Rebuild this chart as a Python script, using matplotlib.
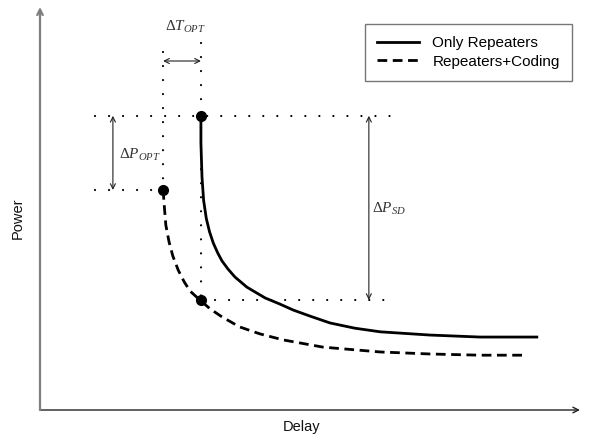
import matplotlib
matplotlib.use("Agg")
import matplotlib.pyplot as plt

plt.rcParams["font.family"] = ["Liberation Sans", "DejaVu Sans"]
plt.rcParams["mathtext.fontset"] = "custom"
plt.rcParams["mathtext.rm"] = "Liberation Serif"
plt.rcParams["mathtext.it"] = "Liberation Serif:italic"

INK = "#000000"
AXIS_GRAY = "#7f7f7f"
LABEL_GRAY = "#333333"

# curves (delay, power), arbitrary units 0..10
solid_delay = [2.98, 2.98, 3.00, 3.03, 3.08, 3.14, 3.21, 3.29, 3.37, 3.48, 3.61, 3.83, 3.98,
               4.17, 4.44, 4.69, 5.00, 5.37, 5.83, 6.30, 7.22, 8.15, 9.20]
solid_power = [7.30, 6.63, 5.78, 5.20, 4.75, 4.42, 4.14, 3.90, 3.70, 3.50, 3.30, 3.05, 2.93,
               2.78, 2.63, 2.48, 2.33, 2.16, 2.03, 1.94, 1.86, 1.81, 1.81]

dashed_delay = [2.28, 2.30, 2.33, 2.39, 2.46, 2.56, 2.67, 2.78, 2.96, 3.15, 3.37, 3.70,
                4.07, 4.50, 5.24, 6.30, 7.22, 8.15, 8.94]
dashed_power = [5.46, 5.09, 4.59, 4.17, 3.82, 3.47, 3.18, 2.95, 2.73, 2.51, 2.31, 2.06,
                1.89, 1.74, 1.56, 1.44, 1.39, 1.36, 1.36]

# key points: start of each curve and the point on the dashed curve
dot_delay = [2.98, 2.28, 2.98]
dot_power = [7.30, 5.46, 2.73]

fig = plt.figure(figsize=(5.93, 4.38), dpi=100)
ax = fig.add_axes([40 / 593, 28 / 438, 540 / 593, 403 / 438])
ax.set_xlim(0, 10)
ax.set_ylim(0, 10)
ax.axis("off")

# Axes with arrow heads
ax.annotate("", xy=(10.0, 0), xytext=(0, 0),
            arrowprops=dict(arrowstyle="->", color="#222222", lw=1.0,
                            shrinkA=0, shrinkB=0), annotation_clip=False)
ax.annotate("", xy=(0, 10.0), xytext=(0, 0),
            arrowprops=dict(arrowstyle="->", color=AXIS_GRAY, lw=1.6,
                            shrinkA=0, shrinkB=0), annotation_clip=False)
ax.text(4.85, -0.42, "Delay", ha="center", va="center", fontsize=10.5, color="#111111")
ax.text(-0.42, 4.75, "Power", ha="center", va="center", rotation=90, fontsize=10.5, color="#111111")

# Dotted guide lines
dot_style = dict(color=INK, lw=1.6, linestyle=(0, (0.01, 6.3)), dash_capstyle="round")
ax.plot([1.02, 6.67], [7.30, 7.30], **dot_style)
ax.plot([1.02, 2.28], [5.46, 5.46], **dot_style)
ax.plot([2.98, 6.57], [2.73, 2.73], **dot_style)
ax.plot([2.28, 2.28], [8.88, 5.46], **dot_style)
ax.plot([2.98, 2.98], [9.11, 2.73], **dot_style)

# Curves
ax.plot(solid_delay, solid_power, color=INK, lw=2.0, label="Only Repeaters",
        solid_joinstyle="round")
ax.plot(dashed_delay, dashed_power, color=INK, lw=2.0, dashes=(3.5, 2.0),
        label="Repeaters+Coding")
ax.plot(dot_delay, dot_power, "o", color=INK, markersize=7, zorder=5)

# Difference arrows
arr = dict(arrowstyle="<->", color="#222222", lw=0.8, shrinkA=0, shrinkB=0,
           mutation_scale=9)
ax.annotate("", xy=(2.28, 8.66), xytext=(2.98, 8.66), arrowprops=arr)
ax.annotate("", xy=(1.35, 7.30), xytext=(1.35, 5.46), arrowprops=arr)
ax.annotate("", xy=(6.09, 7.30), xytext=(6.09, 2.73), arrowprops=arr)

ax.text(2.69, 9.50, r"$\Delta T_{OPT}$", ha="center", va="center", fontsize=11, color=LABEL_GRAY)
ax.text(1.85, 6.33, r"$\Delta P_{OPT}$", ha="center", va="center", fontsize=11, color=LABEL_GRAY)
ax.text(6.14, 4.99, r"$\Delta P_{SD}$", ha="left", va="center", fontsize=11, color=LABEL_GRAY)

leg = ax.legend(loc="upper right", bbox_to_anchor=(572 / 593, 1 - 24 / 438),
                bbox_transform=fig.transFigure, fancybox=False, frameon=True,
                fontsize=11, handlelength=2.75, borderpad=0.8, labelspacing=0.3,
                handletextpad=0.85, borderaxespad=0)
leg.get_frame().set_edgecolor("#555555")
leg.get_frame().set_linewidth(1.0)

fig.savefig("out.png", dpi=100)
